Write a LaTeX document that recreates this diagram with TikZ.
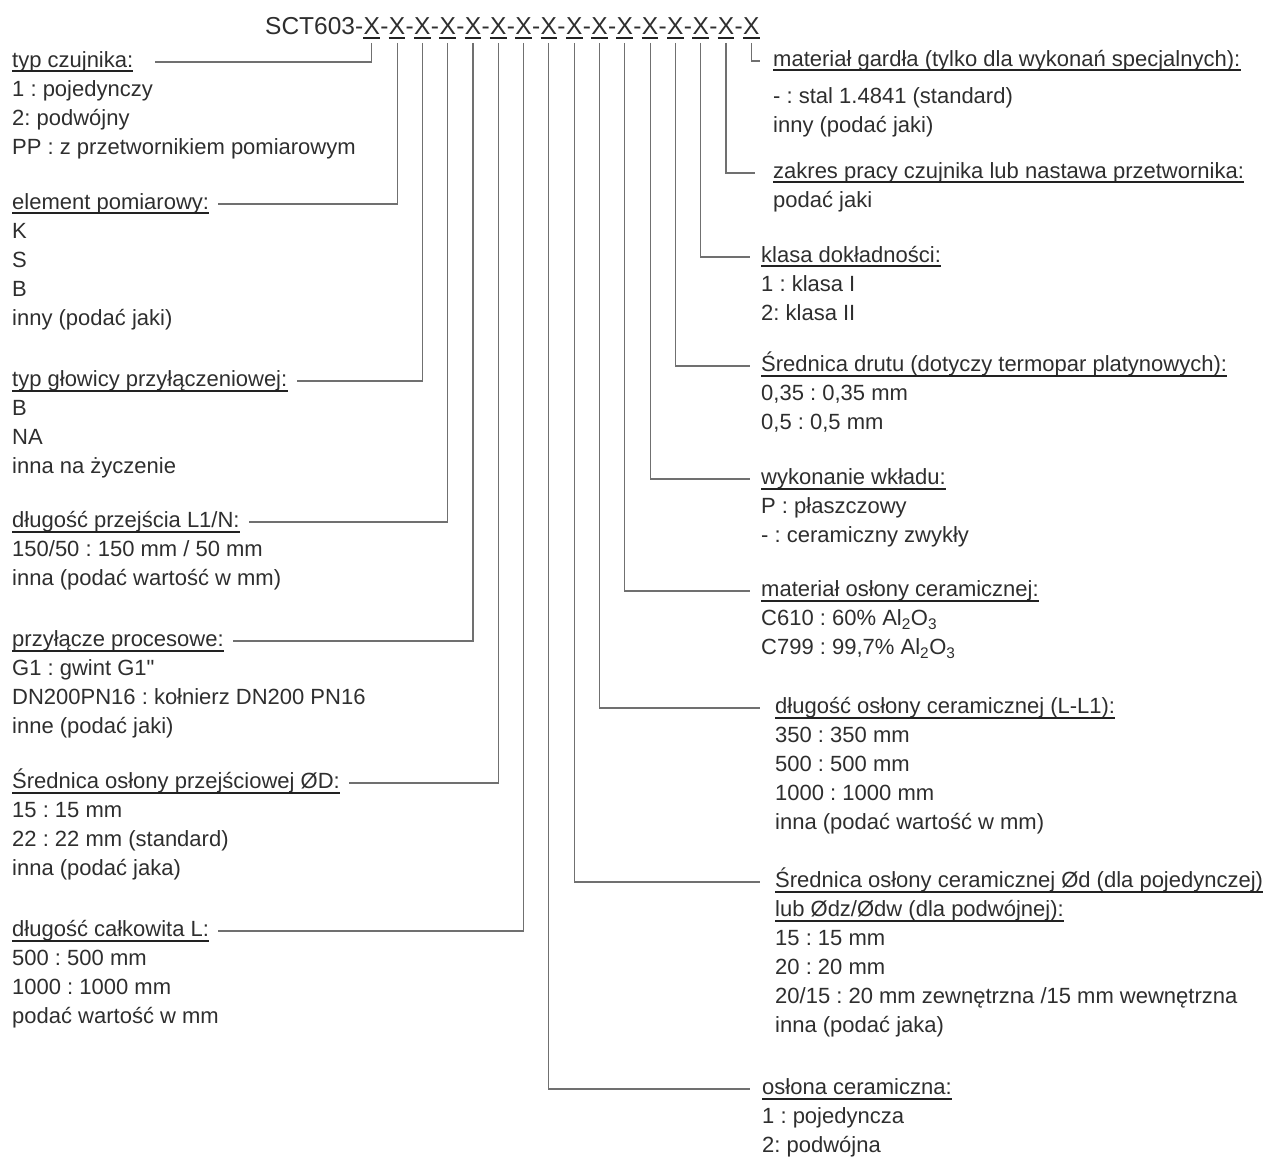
\documentclass[tikz,border=0pt]{standalone}
\usepackage{fontspec}
\setmainfont{Liberation Sans}[Ligatures=TeXOff]
\frenchspacing
\definecolor{txt}{HTML}{2E2E2E}
\definecolor{lnc}{HTML}{707070}
\definecolor{ulc}{HTML}{222222}
\tikzset{
  ttl/.style={anchor=base west, inner sep=0pt, font=\fontsize{24.5}{30}\selectfont, text=txt},
  hdr/.style={anchor=base west, inner sep=0pt, text height=16pt, text depth=5pt, font=\fontsize{22}{29}\selectfont\frenchspacing, text=txt},
  itm/.style={anchor=base west, inner sep=0pt, font=\fontsize{22}{29}\selectfont\frenchspacing, text=txt},
  conn/.style={draw=lnc, line width=1.1pt},
  uline/.style={draw=ulc, line width=2pt},
}
\newcommand\hdrul[1]{\draw[uline] ([yshift=-4pt]#1.base west) -- ([yshift=-4pt]#1.base east);}
\newcommand\itemlist[4]{\foreach \itxt [count=\ii] in {#4} {\node[itm] (#1-\ii) at (#2, #3+29*\ii) {\itxt};}}
\begin{document}
\begin{tikzpicture}[x=1pt,y=-1pt]
\useasboundingbox (0,0) rectangle (1264,1158);
% title
\node[ttl] (t0) at (265,35) {SCT603-};
\node[ttl] (x1) at (t0.base east) {X};
\foreach \ii [evaluate=\ii as \jj using int(\ii-1)] in {2,...,16} {
  \node[ttl] (d\ii) at (x\jj.base east) {-};
  \node[ttl] (x\ii) at (d\ii.base east) {X};
}
\foreach \ii in {1,...,16} {\draw[uline] ([yshift=-3.5pt]x\ii.base west) -- ([yshift=-3.5pt]x\ii.base east);}

% left blocks
\node[hdr] (L1) at (12,67.5) {typ czujnika:}; \hdrul{L1}
\itemlist{L1}{12}{67.5}{1 : pojedynczy, 2: podwójny, PP : z przetwornikiem pomiarowym}
\node[hdr] (L2) at (12,209.5) {element pomiarowy:}; \hdrul{L2}
\itemlist{L2}{12}{209.5}{K, S, B, inny (podać jaki)}
\node[hdr] (L3) at (12,386.5) {typ głowicy przyłączeniowej:}; \hdrul{L3}
\itemlist{L3}{12}{386.5}{B, NA, inna na życzenie}
\node[hdr] (L4) at (12,527.5) {długość przejścia L1/N:}; \hdrul{L4}
\itemlist{L4}{12}{527.5}{150/50 : 150 mm / 50 mm, inna (podać wartość w mm)}
\node[hdr] (L5) at (12,646.5) {przyłącze procesowe:}; \hdrul{L5}
\itemlist{L5}{12}{646.5}{G1 : gwint G1", DN200PN16 : kołnierz DN200 PN16, inne (podać jaki)}
\node[hdr] (L6) at (12,788.5) {Średnica osłony przejściowej ØD:}; \hdrul{L6}
\itemlist{L6}{12}{788.5}{15 : 15 mm, 22 : 22 mm (standard), inna (podać jaka)}
\node[hdr] (L7) at (12,936.5) {długość całkowita L:}; \hdrul{L7}
\itemlist{L7}{12}{936.5}{500 : 500 mm, 1000 : 1000 mm, podać wartość w mm}

% right blocks
\node[hdr] (R1) at (773,66.5) {materiał gardła (tylko dla wykonań specjalnych):}; \hdrul{R1}
\itemlist{R1}{773}{74.5}{- : stal 1.4841 (standard), inny (podać jaki)}
\node[hdr] (R2) at (773,178.5) {zakres pracy czujnika lub nastawa przetwornika:}; \hdrul{R2}
\itemlist{R2}{773}{178.5}{podać jaki}
\node[hdr] (R3) at (761,262.5) {klasa dokładności:}; \hdrul{R3}
\itemlist{R3}{761}{262.5}{1 : klasa I, 2: klasa II}
\node[hdr] (R4) at (761,371.5) {Średnica drutu (dotyczy termopar platynowych):}; \hdrul{R4}
\itemlist{R4}{761}{371.5}{{0,35 : 0,35 mm}, {0,5 : 0,5 mm}}
\node[hdr] (R5) at (761,484.5) {wykonanie wkładu:}; \hdrul{R5}
\itemlist{R5}{761}{484.5}{P : płaszczowy, - : ceramiczny zwykły}
\node[hdr] (R6) at (761,596.5) {materiał osłony ceramicznej:}; \hdrul{R6}
\itemlist{R6}{761}{596.5}{C610 : 60\% Al\textsubscript{2}O\textsubscript{3}, {C799 : 99,7\% Al\textsubscript{2}O\textsubscript{3}}}
\node[hdr] (R7) at (775,713.5) {długość osłony ceramicznej (L-L1):}; \hdrul{R7}
\itemlist{R7}{775}{713.5}{350 : 350 mm, 500 : 500 mm, 1000 : 1000 mm, inna (podać wartość w mm)}
\node[hdr] (R8) at (775,887.5) {Średnica osłony ceramicznej Ød (dla pojedynczej)}; \hdrul{R8}
\node[hdr] (R8b) at (775,916.5) {lub Ødz/Ødw (dla podwójnej):}; \hdrul{R8b}
\itemlist{R8}{775}{916.5}{15 : 15 mm, 20 : 20 mm, 20/15 : 20 mm zewnętrzna /15 mm wewnętrzna, inna (podać jaka)}
\node[hdr] (R9) at (762,1094.5) {osłona ceramiczna:}; \hdrul{R9}
\itemlist{R9}{762}{1094.5}{1 : pojedyncza, 2: podwójna}

% connectors
\draw[conn, shorten >=22pt] ([yshift=-8pt]x1.base) |- (L1.east);
\draw[conn, shorten >=9pt] ([yshift=-8pt]x2.base) |- (L2.east);
\draw[conn, shorten >=9pt] ([yshift=-8pt]x3.base) |- (L3.east);
\draw[conn, shorten >=9pt] ([yshift=-8pt]x4.base) |- (L4.east);
\draw[conn, shorten >=9pt] ([yshift=-8pt]x5.base) |- (L5.east);
\draw[conn, shorten >=9pt] ([yshift=-8pt]x6.base) |- (L6.east);
\draw[conn, shorten >=9pt] ([yshift=-8pt]x7.base) |- (L7.east);
\draw[conn, shorten >=12pt] ([yshift=-8pt]x8.base) |- (R9.west);
\draw[conn, shorten >=15pt] ([yshift=-8pt]x9.base) |- (R8.west);
\draw[conn, shorten >=15pt] ([yshift=-8pt]x10.base) |- (R7.west);
\draw[conn, shorten >=11pt] ([yshift=-8pt]x11.base) |- (R6.west);
\draw[conn, shorten >=11pt] ([yshift=-8pt]x12.base) |- (R5.west);
\draw[conn, shorten >=11pt] ([yshift=-8pt]x13.base) |- (R4.west);
\draw[conn, shorten >=11pt] ([yshift=-8pt]x14.base) |- (R3.west);
\draw[conn, shorten >=18pt] ([yshift=-8pt]x15.base) |- (R2.west);
\draw[conn, shorten >=13pt] ([yshift=-8pt]x16.base) |- (R1.west);
\end{tikzpicture}
\end{document}
